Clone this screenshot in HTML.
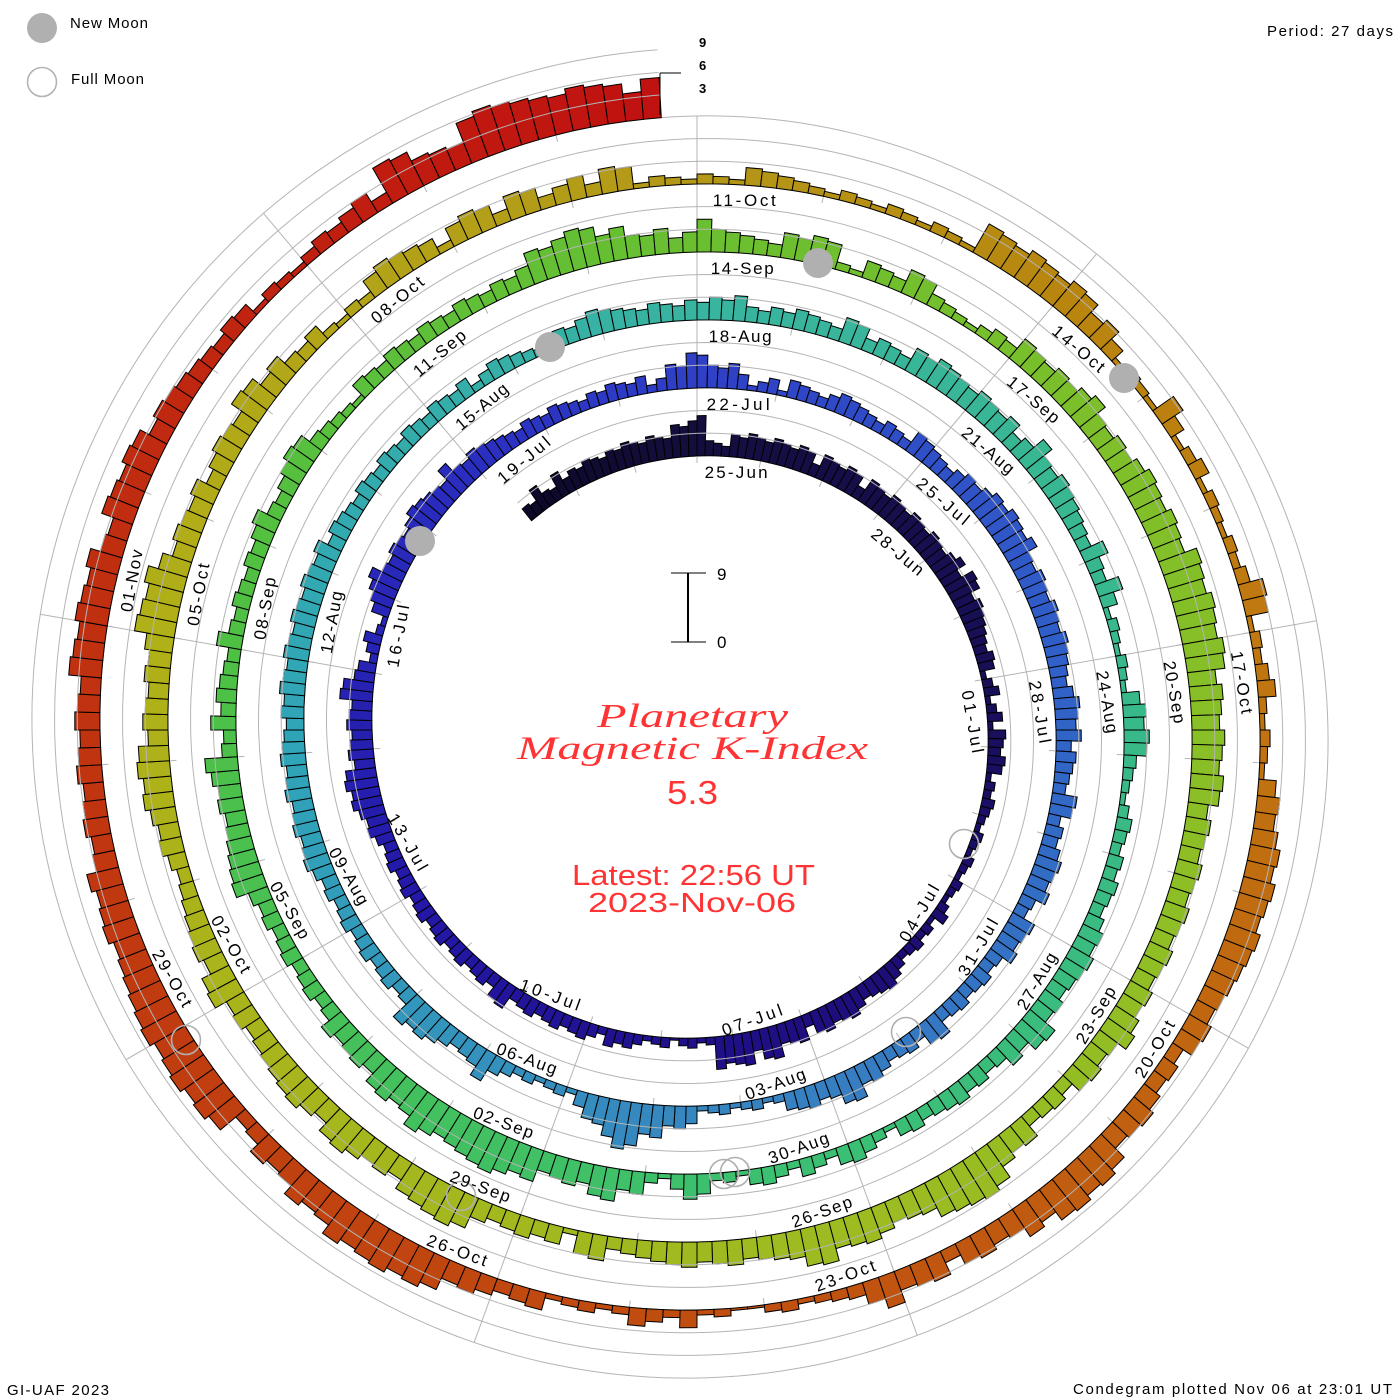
<!DOCTYPE html>
<html><head><meta charset="utf-8"><title>Planetary Magnetic K-Index Condegram</title>
<style>
html,body{margin:0;padding:0;background:#fff;}
svg{display:block;}
.lb{font-family:"Liberation Sans",sans-serif;font-size:17px;fill:#000;}
.sm{font-family:"Liberation Sans",sans-serif;font-size:15px;fill:#000;}
.rd{font-family:"Liberation Sans",sans-serif;fill:#ff3333;}
.ti{font-family:"Liberation Serif",serif;font-style:italic;fill:#ff3333;}
</style></head>
<body>
<svg id="cv" width="1400" height="1400" viewBox="0 0 1400 1400" xmlns="http://www.w3.org/2000/svg">
<rect width="1400" height="1400" fill="#fff"/>
<g id="under" stroke="#b4b4b4" stroke-width="1" fill="none"></g>
<g id="bars" stroke="#000" stroke-width="1" stroke-linejoin="miter"></g>

<!-- moons -->
<g fill="#b0b0b0">
<circle cx="420" cy="541" r="15"/>
<circle cx="550" cy="347" r="15"/>
<circle cx="818" cy="263" r="15"/>
<circle cx="1124" cy="378" r="15"/>
</g>
<g fill="none" stroke="#b0b0b0" stroke-width="1.6">
<circle cx="964" cy="844" r="14.5"/>
<circle cx="906" cy="1032" r="14.5"/>
<circle cx="724" cy="1174" r="14.5"/>
<circle cx="735" cy="1172" r="14.5"/>
<circle cx="461" cy="1196" r="14.5"/>
<circle cx="186" cy="1040" r="14.5"/>
</g>
<g id="over" stroke="#b4b4b4" stroke-width="1" fill="none"></g>

<!-- date labels: upright -->
<g class="lb">
<text x="704.6" y="478" textLength="63" transform="rotate(0 697 730)">25-Jun</text>
<text x="704.8" y="470.4" textLength="63" transform="rotate(40 697 730)">28-Jun</text>
<text x="705.0" y="462.9" textLength="63" transform="rotate(80 697 730)">01-Jul</text>
<text x="706.1" y="425.1" textLength="63" transform="rotate(280 697 730)">16-Jul</text>
<text x="706.4" y="417.6" textLength="63" transform="rotate(320 697 730)">19-Jul</text>
<text x="706.6" y="410" textLength="63" transform="rotate(0 697 730)">22-Jul</text>
<text x="706.8" y="402.4" textLength="63" transform="rotate(40 697 730)">25-Jul</text>
<text x="707.1" y="394.9" textLength="63" transform="rotate(80 697 730)">28-Jul</text>
<text x="708.2" y="357.1" textLength="63" transform="rotate(280 697 730)">12-Aug</text>
<text x="708.4" y="349.6" textLength="63" transform="rotate(320 697 730)">15-Aug</text>
<text x="708.6" y="342" textLength="63" transform="rotate(0 697 730)">18-Aug</text>
<text x="708.9" y="334.4" textLength="63" transform="rotate(40 697 730)">21-Aug</text>
<text x="709.1" y="326.9" textLength="63" transform="rotate(80 697 730)">24-Aug</text>
<text x="710.2" y="289.1" textLength="63" transform="rotate(280 697 730)">08-Sep</text>
<text x="710.5" y="281.6" textLength="63" transform="rotate(320 697 730)">11-Sep</text>
<text x="710.7" y="274" textLength="63" transform="rotate(0 697 730)">14-Sep</text>
<text x="710.9" y="266.4" textLength="63" transform="rotate(40 697 730)">17-Sep</text>
<text x="711.1" y="258.9" textLength="63" transform="rotate(80 697 730)">20-Sep</text>
<text x="712.3" y="221.1" textLength="63" transform="rotate(280 697 730)">05-Oct</text>
<text x="712.5" y="213.6" textLength="63" transform="rotate(320 697 730)">08-Oct</text>
<text x="712.7" y="206" textLength="63" transform="rotate(0 697 730)">11-Oct</text>
<text x="712.9" y="198.4" textLength="63" transform="rotate(40 697 730)">14-Oct</text>
<text x="713.2" y="190.9" textLength="63" transform="rotate(80 697 730)">17-Oct</text>
<text x="714.3" y="153.1" textLength="63" transform="rotate(280 697 730)">01-Nov</text>
</g>
<!-- date labels: flipped -->
<g class="lb" text-anchor="end">
<text x="681" y="1019.7" textLength="63" transform="rotate(-60 697 730)">04-Jul</text>
<text x="681" y="1027.2" textLength="63" transform="rotate(-20 697 730)">07-Jul</text>
<text x="681" y="1034.8" textLength="63" transform="rotate(20 697 730)">10-Jul</text>
<text x="681" y="1042.3" textLength="63" transform="rotate(60 697 730)">13-Jul</text>
<text x="681" y="1087.7" textLength="63" transform="rotate(-60 697 730)">31-Jul</text>
<text x="681" y="1095.2" textLength="63" transform="rotate(-20 697 730)">03-Aug</text>
<text x="681" y="1102.8" textLength="63" transform="rotate(20 697 730)">06-Aug</text>
<text x="681" y="1110.3" textLength="63" transform="rotate(60 697 730)">09-Aug</text>
<text x="681" y="1155.7" textLength="63" transform="rotate(-60 697 730)">27-Aug</text>
<text x="681" y="1163.2" textLength="63" transform="rotate(-20 697 730)">30-Aug</text>
<text x="681" y="1170.8" textLength="63" transform="rotate(20 697 730)">02-Sep</text>
<text x="681" y="1178.3" textLength="63" transform="rotate(60 697 730)">05-Sep</text>
<text x="681" y="1223.7" textLength="63" transform="rotate(-60 697 730)">23-Sep</text>
<text x="681" y="1231.2" textLength="63" transform="rotate(-20 697 730)">26-Sep</text>
<text x="681" y="1238.8" textLength="63" transform="rotate(20 697 730)">29-Sep</text>
<text x="681" y="1246.3" textLength="63" transform="rotate(60 697 730)">02-Oct</text>
<text x="681" y="1291.7" textLength="63" transform="rotate(-60 697 730)">20-Oct</text>
<text x="681" y="1299.2" textLength="63" transform="rotate(-20 697 730)">23-Oct</text>
<text x="681" y="1306.8" textLength="63" transform="rotate(20 697 730)">26-Oct</text>
<text x="681" y="1314.3" textLength="63" transform="rotate(60 697 730)">29-Oct</text>
</g>

<!-- top scale 9 6 3 and latest marker -->
<g font-family="Liberation Sans, sans-serif" font-size="13" font-weight="bold" fill="#000">
<text x="699" y="47">9</text>
<text x="699" y="70">6</text>
<text x="699" y="93">3</text>
</g>
<g stroke="#000" stroke-width="1">
<line x1="660" y1="73" x2="681" y2="73"/>
<line x1="660" y1="73" x2="660" y2="115"/>
</g>

<!-- center scale bar -->
<g stroke="#000">
<line x1="688" y1="573" x2="688" y2="642" stroke-width="2"/>
<line x1="671" y1="573" x2="706" y2="573" stroke-width="1"/>
<line x1="671" y1="642" x2="706" y2="642" stroke-width="1"/>
</g>
<text class="lb" x="717" y="580">9</text>
<text class="lb" x="717" y="648">0</text>

<!-- center title -->
<text class="ti" x="597" y="727" font-size="34" textLength="191" lengthAdjust="spacingAndGlyphs">Planetary</text>
<text class="ti" x="517" y="759" font-size="33" textLength="351" lengthAdjust="spacingAndGlyphs">Magnetic K-Index</text>
<text class="rd" x="667" y="804" font-size="33" textLength="51" lengthAdjust="spacingAndGlyphs">5.3</text>
<text class="rd" x="572" y="885" font-size="29" textLength="243" lengthAdjust="spacingAndGlyphs">Latest: 22:56 UT</text>
<text class="rd" x="588" y="912" font-size="28" textLength="208" lengthAdjust="spacingAndGlyphs">2023-Nov-06</text>

<!-- legend -->
<circle cx="42" cy="28" r="15" fill="#b0b0b0"/>
<text class="sm" x="70" y="28" textLength="78">New Moon</text>
<circle cx="42" cy="82" r="14.5" fill="none" stroke="#b4b4b4" stroke-width="1.6"/>
<text class="sm" x="71" y="84" textLength="73">Full Moon</text>

<text class="sm" x="1267" y="36" textLength="126">Period: 27 days</text>
<text class="sm" x="7" y="1395" textLength="102">GI-UAF 2023</text>
<text class="sm" x="1073" y="1394" textLength="319">Condegram plotted Nov 06 at 23:01 UT</text>
</svg>

<script>
(function(){
var CX=697, CY=730, R0=274, PT=68, KU=68/9;
function rb(d){return R0+PT*d/27;}
function pt(d,r){var a=d/27*2*Math.PI;return (CX+r*Math.sin(a)).toFixed(1)+","+(CY-r*Math.cos(a)).toFixed(1);}
var data="2232232 32332333 33333445 52213333 33333323 33332333 33333333 33434433 33222221 "+
"12112122 22211121 11111111 11112111 21122332 23333332 33344344 44111101 11122212 22222222 "+
"23322222 22222222 22222223 33444433 33333443 21221123 44333333 44333433 33322222 22221222 22212335 "+
"43332112 12221232 22122133 22223334 44444333 33333333 22333332 32223322 23333322 33332222 "+
"22223322 22233443 23321111 11112334 46654321 11111224 32233444 22222222 22222333 33333333 "+
"33233333 33333333 33232222 22222222 22221222 21112233 33223223 23332222 32223322 22334333 "+
"33332343 33332223 22321111 11123333 21111221 22222233 33323344 33222232 22221123 21221222 11133211 "+
"33443333 44555544 55444433 33322222 22222344 43333344 22323222 32222222 33222343 22111222 "+
"22222222 22234455 54433323 43322233 43112223 32111122 33333443 33344444 44555555 55444444 "+
"44433333 33333333 33443333 22223345 66554334 44455433 33333332 22331223 22345544 33344433 "+
"44333233 44333322 22333444 43333334 55554333 33233334 43322211 11333321 33323322 32331111 "+
"11122211 11111111 11444444 44332111 13211211 11112331 11221111 12333444 44444333 33222333 "+
"34555544 33332333 43211111 00112122 11111222 23345555 55444333 22455555 55544444 44333333 33333444 "+
"44443344 44433332 22221111 12223255 43366665 565545";
var vals=data.replace(/\s+/g,"").split("").map(Number);
var d0=-2.875, n=vals.length, dEnd=d0+n/8;
var K=[[-3,"0c0828"],[0,"140e3e"],[6,"180f58"],[12,"1e0e80"],[18,"2418a8"],[24,"2a2ec0"],[27,"2f40c6"],
[33,"3060c8"],[40,"3784c0"],[47,"30a4b8"],[54,"38b4a0"],[60,"38b88c"],[67,"3cc070"],[75,"4ec044"],
[81,"6abf30"],[87,"86bf28"],[93,"9cbc22"],[102,"b0b018"],[108,"b49818"],[111,"b8860f"],[114,"c07810"],
[120,"c05410"],[126,"c03c10"],[130,"c02c10"],[135,"c01010"]];
function col(d){
  for(var i=1;i<K.length;i++){
    if(d<=K[i][0]||i==K.length-1){
      var a=K[i-1],b=K[i];var t=(d-a[0])/(b[0]-a[0]);t=Math.max(0,Math.min(1,t));
      var c="#";
      for(var k=0;k<3;k++){var x=parseInt(a[1].substr(2*k,2),16),y=parseInt(b[1].substr(2*k,2),16);
        var v=Math.round(x+(y-x)*t).toString(16);if(v.length<2)v="0"+v;c+=v;}
      return c;
    }
  }
}
var u="";
var p="M"+pt(d0,rb(d0));
for(var d=d0+0.1;d<=dEnd+27;d+=0.1){p+="L"+pt(d,rb(d));}
p+="L"+pt(dEnd+27,rb(dEnd+27));
u+='<path d="'+p+'"/>';
for(var ph=0;ph<360;ph+=40){
  var dp=ph/360*27, dmin=null, dmax=null;
  for(var m=-1;m<7;m++){var dd=dp+27*m;if(dd>=d0&&dd<=dEnd){if(dmin===null)dmin=dd;dmax=dd;}}
  if(dmin!==null){u+='<path d="M'+pt(dmin,rb(dmin))+'L'+pt(dmax,rb(dmax)+68)+'"/>';}
}
for(var dt=Math.ceil(d0);dt<=dEnd;dt++){u+='<path d="M'+pt(dt,rb(dt)-7)+'L'+pt(dt,rb(dt)-1)+'"/>';}
document.getElementById("under").innerHTML=u;
var s="";
for(var i=0;i<n;i++){
  var v=vals[i];
  if(v<=0){v=0.3;}else{var j=[0,-0.33,0.33][(i*7+3)%3]; v=Math.max(0.33,v+j);}
  var da=d0+i/8, db=da+1/8, h=v*KU;
  s+='<path d="M'+pt(da,rb(da))+'L'+pt(db,rb(db))+'L'+pt(db,rb(db)+h)+'L'+pt(da,rb(da)+h)+'Z" fill="'+col(da+1/16)+'"/>';
}
document.getElementById("bars").innerHTML=s;
var o="";
for(var k=1;k<=2;k++){
  var off=k*68/3;
  var q="M"+pt(d0,rb(d0)+off);
  for(var d2=d0+0.1;d2<=dEnd;d2+=0.1){q+="L"+pt(d2,rb(d2)+off);}
  q+="L"+pt(dEnd,rb(dEnd)+off);
  o+='<path d="'+q+'"/>';
}
document.getElementById("over").innerHTML=o;
})();
</script>
</body></html>
